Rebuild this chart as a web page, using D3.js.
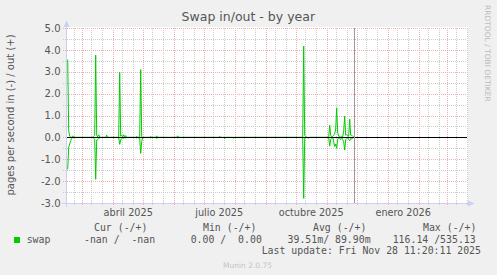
<!DOCTYPE html>
<html><head><meta charset="utf-8">
<script src="https://cdn.jsdelivr.net/npm/d3@7"></script>
<style>html,body{margin:0;padding:0;background:#F0F0F0;} svg{display:block;} .pre text{white-space:pre;}</style>
</head><body><svg id="c" width="497" height="275"></svg>
<script>
// ---------- data ----------
const title = "Swap in/out - by year";
const yTitle = "pages per second in (-) / out (+)";
const seriesName = "swap";
const dates = [
 "2025-02-15","2025-02-16","2025-02-17","2025-02-18","2025-02-19","2025-02-20","2025-02-21","2025-02-22",
 "2025-03-12","2025-03-13","2025-03-14","2025-03-15","2025-03-16","2025-03-17","2025-03-18","2025-03-19","2025-03-20",
 "2025-03-25","2025-03-26","2025-03-27",
 "2025-04-01","2025-04-02","2025-04-03",
 "2025-04-07","2025-04-08","2025-04-09","2025-04-10","2025-04-11","2025-04-12","2025-04-13","2025-04-14","2025-04-15",
 "2025-04-24","2025-04-25","2025-04-26",
 "2025-04-28","2025-04-29","2025-04-30","2025-05-01",
 "2025-05-08","2025-05-09","2025-05-10",
 "2025-05-14","2025-05-15","2025-05-16",
 "2025-06-04","2025-06-05","2025-06-06",
 "2025-07-16","2025-07-17","2025-07-18",
 "2025-07-21","2025-07-22","2025-07-23",
 "2025-07-30","2025-07-31","2025-08-01",
 "2025-10-08","2025-10-09","2025-10-10","2025-10-11","2025-10-12",
 "2025-10-14","2025-10-15",
 "2025-11-03","2025-11-04","2025-11-05","2025-11-06","2025-11-07","2025-11-08","2025-11-09","2025-11-10",
 "2025-11-11","2025-11-12","2025-11-13","2025-11-14","2025-11-15","2025-11-16","2025-11-17","2025-11-18",
 "2025-11-19","2025-11-20","2025-11-21","2025-11-22","2025-11-23","2025-11-24","2025-11-25","2025-11-26",
 "2025-11-27","2025-11-28"
];
const outValues = [
 3.56,0.30,0.05,0.02,0.00,0.06,0.05,0,
 0,0.06,0.10,3.76,0.10,0.02,0.12,0.02,0,
 0,0.10,0,
 0,0.03,0,
 0,2.97,0.05,0.10,0.02,0.12,0.00,0.08,0,
 0,0.05,0,
 0.02,3.10,0.05,0,
 0,0.05,0,
 0,0.07,0,
 0,0.07,0,
 0,0.05,0,
 0,0,0,
 0,0,0,
 0,4.17,0.10,0.05,0,
 0,0,
 0,0.56,0.10,0.00,0.05,0.10,0.15,0.40,
 1.35,0.20,0.05,0.05,0.00,0.05,0.02,0.30,
 0.97,0.10,0.12,0.08,0.05,0.83,0.10,0.10,
 0.05,0.02
];
const inValues = [
 1.46,0.45,0.30,0.15,0.05,0.00,0.02,0,
 0,0.05,0.08,1.92,0.12,0.10,0.05,0.02,0,
 0,0,0,
 0,0.02,0,
 0,0.32,0.12,0.05,0.00,0.05,0.00,0.03,0,
 0,0.03,0,
 0.05,0.73,0.20,0,
 0,0.02,0,
 0,0.05,0,
 0,0.02,0,
 0,0,0,
 0,0.06,0,
 0,0.04,0,
 0,2.79,0.05,0,0,
 0.03,0,
 0,0.40,0.10,0.05,0.00,0.20,0.42,0.30,
 0.50,0.10,0.00,0.05,0.10,0.00,0.10,0.20,
 0.58,0.10,0.05,0.00,0.10,0.15,0.05,0.08,
 0.02,0.00
];
const yTickValues = [5,4,3,2,1,0,-1,-2,-3];
const yTickLabels = ["5.0","4.0","3.0","2.0","1.0","0.0","-1.0","-2.0","-3.0"];
const xLabelMonths = ["2025-04-01","2025-07-01","2025-10-01","2026-01-01"];
const xTickLabels = ["abril 2025","julio 2025","octubre 2025","enero 2026"];
const timeStart = "2025-02-13T00:00:00Z";
const timeEnd = "2026-03-21T07:12:00Z";
const lastUpdate = "2025-11-28T11:20:11Z";
const legendHeaders = ["Cur (-/+)","Min (-/+)","Avg (-/+)","Max (-/+)"];
const legendValues = ["-nan /  -nan","0.00 /  0.00","39.51m/ 89.90m","116.14 /535.13"];
const lastUpdateText = "Last update: Fri Nov 28 11:20:11 2025";
const footer = "Munin 2.0.75";
const watermark = "RRDTOOL / TOBI OETIKER";

// ---------- layout ----------
const svg = d3.select("#c");
const L = 65.7, R = 467, T = 28, B = 203;
const x = d3.scaleUtc().domain([new Date(timeStart), new Date(timeEnd)]).range([L, R]);
const y = d3.scaleLinear().domain([-3, 5]).range([B, T]);
const px = v => Math.round(v) + 0.5;
const SANS = "DejaVu Sans, sans-serif", MONO = "DejaVu Sans Mono, monospace";
const TXT = "#555555";

svg.append("rect").attr("width",497).attr("height",275).attr("fill","#F0F0F0");
svg.append("rect").attr("x",66).attr("y",27).attr("width",402).attr("height",176).attr("fill","#FFFFFF");

// grid
const minorY = d3.range(-2.5, 5, 1);
const majorY = yTickValues;
const months = d3.utcMonth.range(new Date("2025-02-01T00:00:00Z"), new Date("2026-04-01T00:00:00Z"));
const minorX = [];
months.forEach(m => { minorX.push(d3.utcDay.offset(m, 9)); minorX.push(d3.utcDay.offset(m, 20)); });
const [t0, t1] = x.domain();
const inDom = d => d > t0 && d <= t1;
const minorXv = minorX.filter(inDom), majorXv = months.filter(inDom);

const grid = svg.append("g").attr("stroke-width",1).attr("stroke-dasharray","1,1").attr("shape-rendering","crispEdges");
grid.selectAll(".hm").data(minorY).join("line")
  .attr("x1",63).attr("x2",R).attr("y1",d=>px(y(d))).attr("y2",d=>px(y(d))).attr("stroke","#CCCCCC");
grid.selectAll(".vm").data(minorXv).join("line")
  .attr("y1",T).attr("y2",206).attr("x1",d=>px(x(d))).attr("x2",d=>px(x(d))).attr("stroke","#CCCCCC");
grid.selectAll(".hM").data(majorY).join("line")
  .attr("x1",63).attr("x2",R).attr("y1",d=>px(y(d))).attr("y2",d=>px(y(d))).attr("stroke","#F0B0B0");
grid.selectAll(".vM").data(majorXv).join("line")
  .attr("y1",T).attr("y2",206).attr("x1",d=>px(x(d))).attr("x2",d=>px(x(d))).attr("stroke","#F0B0B0");

// data lines
const pts = dates.map((d,i) => ({t: new Date(d + "T00:00:00Z"), o: outValues[i], n: inValues[i]}));
const lineOut = d3.line().x(d => x(d.t)).y(d => y(d.o));
const lineIn = d3.line().x(d => x(d.t)).y(d => y(-d.n));
svg.append("path").attr("d", lineIn(pts)).attr("fill","none").attr("stroke","#00CC00").attr("stroke-width",1);
svg.append("path").attr("d", lineOut(pts)).attr("fill","none").attr("stroke","#00CC00").attr("stroke-width",1);

// zero line
svg.append("line").attr("x1",66).attr("x2",R).attr("y1",px(y(0))).attr("y2",px(y(0)))
  .attr("stroke","#000").attr("stroke-width",1).attr("shape-rendering","crispEdges");
// now line
const nx = px(x(new Date(lastUpdate)));
svg.append("line").attr("x1",nx).attr("x2",nx).attr("y1",T).attr("y2",B)
  .attr("stroke","#999999").attr("stroke-width",1).attr("shape-rendering","crispEdges");

// axes
const AX = "#CBD1F4";
svg.append("line").attr("x1",62).attr("x2",470).attr("y1",203.5).attr("y2",203.5).attr("stroke",AX).attr("shape-rendering","crispEdges");
svg.append("line").attr("x1",66.5).attr("x2",66.5).attr("y1",207).attr("y2",25).attr("stroke",AX).attr("shape-rendering","crispEdges");
svg.append("path").attr("d","M468,200.5L474.5,203.5L468,206.5Z").attr("fill",AX);
svg.append("path").attr("d","M63.5,27L66.5,20.5L69.5,27Z").attr("fill",AX);

// y tick labels
const ya = svg.append("g").attr("transform","translate(60.5,0)")
  .call(d3.axisLeft(y).tickValues(yTickValues).tickFormat((d,i)=>yTickLabels[i]).tickSize(0).tickPadding(0));
ya.select(".domain").remove();
ya.selectAll("text").attr("font-family",SANS).attr("font-size",10).attr("fill",TXT);

// x tick labels (RRDtool centres labels half a month after the tick)
const labelDates = xLabelMonths.map(m => d3.utcDay.offset(new Date(m + "T00:00:00Z"), 15));
const xa = svg.append("g").attr("transform","translate(0,208.8)")
  .call(d3.axisBottom(x).tickValues(labelDates).tickFormat((d,i)=>xTickLabels[i]).tickSize(0).tickPadding(0));
xa.select(".domain").remove();
xa.selectAll("text").attr("font-family",SANS).attr("font-size",9.7).attr("fill",TXT);

// title
svg.append("text").attr("x",248.3).attr("y",21).attr("text-anchor","middle")
  .attr("font-family",SANS).attr("font-size",12.5).attr("fill",TXT).text(title);
// y title
svg.append("text").attr("transform","translate(14,115) rotate(-90)").attr("text-anchor","middle")
  .attr("font-family",SANS).attr("font-size",10).attr("fill",TXT).text(yTitle);
// watermark
svg.append("text").attr("transform","translate(485,5) rotate(90)").attr("text-anchor","start")
  .attr("font-family",SANS).attr("font-size",7.5).attr("fill","#BBBBBB").text(watermark);

// legend
const colStarts = [94, 203, 313, 423];
const valStarts = [84, 190.7, 287.6, 392.7];
const lg = svg.append("g").attr("class","pre").attr("font-family",MONO).attr("font-size",9.85).attr("fill",TXT);
lg.selectAll(".h").data(legendHeaders).join("text").attr("x",(d,i)=>colStarts[i]).attr("y",231).text(d=>d);
lg.selectAll(".v").data(legendValues).join("text").attr("x",(d,i)=>valStarts[i]).attr("y",242.5).text(d=>d);
lg.append("text").attr("x",26.7).attr("y",242.5).text(seriesName);
lg.append("text").attr("x",261.7).attr("y",254).text(lastUpdateText);
svg.append("rect").attr("x",14).attr("y",237).attr("width",6).attr("height",6).attr("fill","#00CC00");

svg.append("text").attr("x",223).attr("y",267.5).attr("font-family",SANS).attr("font-size",7.5)
  .attr("fill","#C4C4C4").text(footer);
</script></body></html>
